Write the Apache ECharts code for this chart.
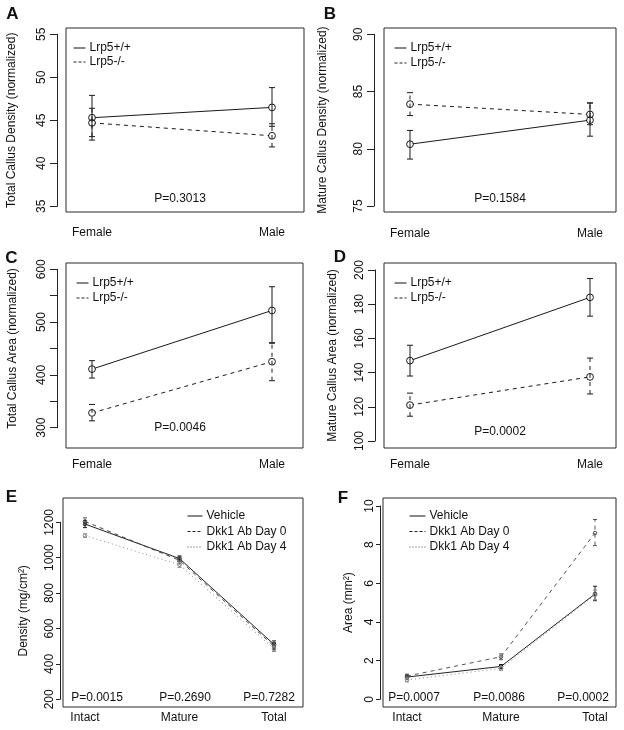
<!DOCTYPE html>
<html><head><meta charset="utf-8">
<script src="https://cdn.jsdelivr.net/npm/echarts@6/dist/echarts.min.js"></script>
<style>html,body{margin:0;padding:0;background:#fff}#c{width:624px;height:730px}</style>
</head><body><div id="c"></div>
<script>
// ---------- DATA ----------
const sexCats = ['Female', 'Male'];
const siteCats = ['Intact', 'Mature', 'Total'];
const lrpNames = ['Lrp5+/+', 'Lrp5-/-'];
const dkkNames = ['Vehicle', 'Dkk1 Ab Day 0', 'Dkk1 Ab Day 4'];

// A: Total callus density
const aWtMean = [45.3, 46.5], aWtLo = [42.7, 44.3], aWtHi = [47.9, 48.8];
const aKoMean = [44.7, 43.2], aKoLo = [43.1, 41.9], aKoHi = [46.4, 44.6];
// B: Mature callus density
const bWtMean = [80.4, 82.5], bWtLo = [79.1, 81.1], bWtHi = [81.6, 84.0];
const bKoMean = [83.9, 83.0], bKoLo = [82.9, 82.1], bKoHi = [84.9, 84.0];
// C: Total callus area
const cWtMean = [411, 522], cWtLo = [394, 461], cWtHi = [427, 567];
const cKoMean = [328, 425], cKoLo = [313, 389], cKoHi = [344, 460];
// D: Mature callus area
const dWtMean = [147, 184], dWtLo = [138, 173], dWtHi = [156, 195];
const dKoMean = [121, 137.5], dKoLo = [114.5, 127.5], dKoHi = [128, 148.5];
// E: Density
const eVehMean = [1190, 995, 510], eVehLo = [1170, 980, 490], eVehHi = [1210, 1010, 530];
const eD0Mean = [1205, 985, 500], eD0Lo = [1190, 965, 480], eD0Hi = [1225, 1005, 520];
const eD4Mean = [1125, 960, 485], eD4Lo = [1115, 945, 470], eD4Hi = [1135, 975, 500];
// F: Area
const fVehMean = [1.15, 1.7, 5.45], fVehLo = [1.05, 1.6, 5.1], fVehHi = [1.25, 1.8, 5.85];
const fD0Mean = [1.2, 2.2, 8.6], fD0Lo = [1.1, 2.05, 7.95], fD0Hi = [1.3, 2.35, 9.3];
const fD4Mean = [1.0, 1.6, 5.4], fD4Lo = [0.9, 1.5, 5.15], fD4Hi = [1.1, 1.7, 5.65];

// axis ticks (min, max, step)
const yMin = [35, 75, 300, 100, 200, 0];
const yMax = [55, 90, 600, 200, 1200, 10];
const yStep = [5, 5, 50, 20, 200, 2];
const yLabelStep = [5, 5, 100, 20, 200, 2];

const yTitles = ['Total Callus Density (normalized)', 'Mature Callus Density (normalized)',
  'Total Callus Area (normalized)', 'Mature Callus Area (normalized)',
  'Density (mg/cm\u00B2)', 'Area (mm\u00B2)'];
const panelLetters = ['A', 'B', 'C', 'D', 'E', 'F'];
const pTextsAD = ['P=0.3013', 'P=0.1584', 'P=0.0046', 'P=0.0002'];
const pTextsE = ['P=0.0015', 'P=0.2690', 'P=0.7282'];
const pTextsF = ['P=0.0007', 'P=0.0086', 'P=0.0002'];

// ---------- LAYOUT (pixels, style only) ----------
const FONT = '"Liberation Sans", Arial, Helvetica, sans-serif';
const layout = [
  { box: [66, 28, 238, 184], data: [92, 34.3, 180, 172], off: 35, tickLen: 7, lblMargin: 9, xMargin: 20, nameGap: 39, leg: [73, 42, 12, 2], letter: [12.5, 14], p: [[180, 199]] },
  { box: [384, 28, 232, 184], data: [410, 34.3, 180, 171.7], off: 36, tickLen: 7, lblMargin: 9, xMargin: 22, nameGap: 45, leg: [394, 42, 12, 3], letter: [330, 14], p: [[500, 199]] },
  { box: [66, 263, 237, 185], data: [92, 269.3, 180, 158.4], off: 35, tickLen: 7, lblMargin: 9, xMargin: 31, nameGap: 38, leg: [76, 277, 12, 3], letter: [11.5, 258], p: [[180, 428]] },
  { box: [384, 263, 232, 185], data: [410, 270, 180, 171], off: 35, tickLen: 7, lblMargin: 9, xMargin: 18, nameGap: 36, leg: [394, 277, 12, 3], letter: [340, 257], p: [[500, 432]] },
  { box: [63, 498, 240, 209], data: [85, 522.3, 189, 177], off: 25, tickLen: 4, lblMargin: 4, xMargin: 12, nameGap: 30, leg: [187, 510, 15, 3.5], letter: [11.5, 497], p: [[97, 698], [185, 698], [269, 698]] },
  { box: [383, 498, 233, 209], data: [407, 506, 188, 193.3], off: 27, tickLen: 4, lblMargin: 4, xMargin: 12, nameGap: 25, leg: [409, 510, 16, 3.5], letter: [343, 498], p: [[414, 698], [499, 698], [583, 698]] }
];

// groups per panel: [name, mean, lo, hi, dash, color]
const DASH = [4, 4], DOT = [1, 3];
const LEG_DASH = [3, 2], LEG_DOT = [1, 2];
const groups = [
  [[lrpNames[0], aWtMean, aWtLo, aWtHi, null, '#1a1a1a'], [lrpNames[1], aKoMean, aKoLo, aKoHi, DASH, '#1a1a1a']],
  [[lrpNames[0], bWtMean, bWtLo, bWtHi, null, '#1a1a1a'], [lrpNames[1], bKoMean, bKoLo, bKoHi, DASH, '#1a1a1a']],
  [[lrpNames[0], cWtMean, cWtLo, cWtHi, null, '#1a1a1a'], [lrpNames[1], cKoMean, cKoLo, cKoHi, DASH, '#1a1a1a']],
  [[lrpNames[0], dWtMean, dWtLo, dWtHi, null, '#1a1a1a'], [lrpNames[1], dKoMean, dKoLo, dKoHi, DASH, '#1a1a1a']],
  [[dkkNames[0], eVehMean, eVehLo, eVehHi, null, '#222'], [dkkNames[1], eD0Mean, eD0Lo, eD0Hi, DASH, '#444'], [dkkNames[2], eD4Mean, eD4Lo, eD4Hi, DOT, '#8a8a8a']],
  [[dkkNames[0], fVehMean, fVehLo, fVehHi, null, '#222'], [dkkNames[1], fD0Mean, fD0Lo, fD0Hi, DASH, '#555'], [dkkNames[2], fD4Mean, fD4Lo, fD4Hi, DOT, '#8a8a8a']]
];

const grids = [], xAxes = [], yAxes = [], series = [], legends = [], graphics = [];

for (let i = 0; i < 6; i++) {
  const L = layout[i];
  const cats = i < 4 ? sexCats : siteCats;
  grids.push({ left: L.data[0], top: L.data[1], width: L.data[2], height: L.data[3], show: false, containLabel: false });
  xAxes.push({
    gridIndex: i, type: 'category', data: cats, boundaryGap: false,
    axisLine: { show: false }, axisTick: { show: false }, splitLine: { show: false },
    axisLabel: { interval: 0, margin: L.xMargin, fontSize: 12, color: '#111', fontFamily: FONT }
  });
  const ls = yLabelStep[i];
  yAxes.push({
    gridIndex: i, type: 'value', position: 'left', offset: L.off,
    min: yMin[i], max: yMax[i], interval: yStep[i],
    axisLine: { show: true, lineStyle: { color: '#222', width: 1 } },
    axisTick: { show: true, length: L.tickLen, lineStyle: { color: '#222', width: 1 } },
    axisLabel: { rotate: 90, margin: L.lblMargin, fontSize: 12, color: '#111', fontFamily: FONT,
      formatter: v => (Math.abs(v / ls - Math.round(v / ls)) < 1e-6 ? String(v) : '') },
    splitLine: { show: false },
    name: yTitles[i], nameLocation: 'middle', nameGap: L.nameGap,
    nameTextStyle: { fontSize: 12, color: '#111', fontFamily: FONT }
  });
}
for (let i = 0; i < 6; i++) {
  const B = layout[i].box;
  grids.push({ left: B[0], top: B[1], width: B[2], height: B[3], show: true, borderColor: '#2a2a2a', borderWidth: 1, backgroundColor: 'transparent' });
  xAxes.push({ gridIndex: 6 + i, type: 'value', show: false, min: 0, max: 1 });
  yAxes.push({ gridIndex: 6 + i, type: 'value', show: false, min: 0, max: 1 });
}

function barRender(capHalf, dash, color, r) {
  return function (params, api) {
    const x = api.value(0);
    const pm = api.coord([x, api.value(1)]);
    const pl = api.coord([x, api.value(2)]);
    const ph = api.coord([x, api.value(3)]);
    const children = [
      { type: 'line', shape: { x1: pl[0], y1: pl[1], x2: ph[0], y2: ph[1] }, style: { stroke: color, lineWidth: 1, lineDash: dash || null } },
      { type: 'line', shape: { x1: pl[0] - capHalf, y1: pl[1], x2: pl[0] + capHalf, y2: pl[1] }, style: { stroke: color, lineWidth: 1 } },
      { type: 'line', shape: { x1: ph[0] - capHalf, y1: ph[1], x2: ph[0] + capHalf, y2: ph[1] }, style: { stroke: color, lineWidth: 1 } },
      { type: 'circle', shape: { cx: pm[0], cy: pm[1], r: r }, style: { stroke: color, fill: 'none', lineWidth: 1 } }
    ];
    return { type: 'group', children };
  };
}
function maskRender(r) {
  return function (params, api) {
    const p = api.coord([api.value(0), api.value(1)]);
    return { type: 'circle', shape: { cx: p[0], cy: p[1], r: r }, style: { fill: '#fff', stroke: null } };
  };
}

for (let i = 0; i < 6; i++) {
  const big = i < 4;
  const r = big ? 3.4 : 1.8;
  const cap = big ? 3 : 2;
  groups[i].forEach(g => {
    const [name, mean, lo, hi, dash, color] = g;
    series.push({
      type: 'line', name, xAxisIndex: i, yAxisIndex: i, data: mean,
      symbol: 'none', silent: true, animation: false, z: 2,
      lineStyle: { color, width: 1, type: dash || 'solid' }, itemStyle: { color }
    });
    const rows = mean.map((m, k) => [k, m, lo[k], hi[k]]);
    if (big) {
      series.push({ type: 'custom', name: name + ' mask', xAxisIndex: i, yAxisIndex: i, data: rows, encode: { x: 0, y: 1 },
        renderItem: maskRender(r - 0.5), silent: true, animation: false, z: 3 });
    }
    series.push({ type: 'custom', name: name + ' err', xAxisIndex: i, yAxisIndex: i, data: rows, encode: { x: 0, y: [1, 2, 3] },
      renderItem: barRender(cap, dash, color, r), silent: true, animation: false, z: 4 });
  });
  const L = layout[i];
  legends.push({
    data: groups[i].map(g => {
      const item = { name: g[0] };
      if (g[4] === null) item.lineStyle = { color: '#111', width: 1 };
      if (g[4] === DASH) item.lineStyle = { type: LEG_DASH, width: 1, color: '#222' };
      if (g[4] === DOT) item.lineStyle = { type: LEG_DOT, width: 1, color: '#444' };
      return item;
    }),
    orient: 'vertical', left: L.leg[0], top: L.leg[1],
    itemWidth: L.leg[2], itemHeight: 12, itemGap: L.leg[3], padding: 0, selectedMode: false,
    itemStyle: { opacity: 0, borderWidth: 0 },
    lineStyle: { width: 1 },
    textStyle: { fontSize: 12, color: '#111', fontFamily: FONT, padding: [0, 0, 0, -1] }
  });
  graphics.push({ type: 'text', x: L.letter[0], y: L.letter[1],
    style: { text: panelLetters[i], font: 'bold 17px ' + FONT, fill: '#111', textAlign: 'center', textVerticalAlign: 'middle', align: 'center', verticalAlign: 'middle' } });
  const texts = i < 4 ? [pTextsAD[i]] : (i === 4 ? pTextsE : pTextsF);
  texts.forEach((t, k) => {
    graphics.push({ type: 'text', x: L.p[k][0], y: L.p[k][1],
      style: { text: t, font: '12px ' + FONT, fill: '#111', textAlign: 'center', textVerticalAlign: 'middle', align: 'center', verticalAlign: 'middle' } });
  });
}

const chart = echarts.init(document.getElementById('c'), null, { renderer: 'canvas' });
chart.setOption({
  animation: false,
  backgroundColor: '#fff',
  textStyle: { fontFamily: FONT },
  grid: grids, xAxis: xAxes, yAxis: yAxes, series, legend: legends,
  graphic: { elements: graphics }
});
</script>
</body></html>
